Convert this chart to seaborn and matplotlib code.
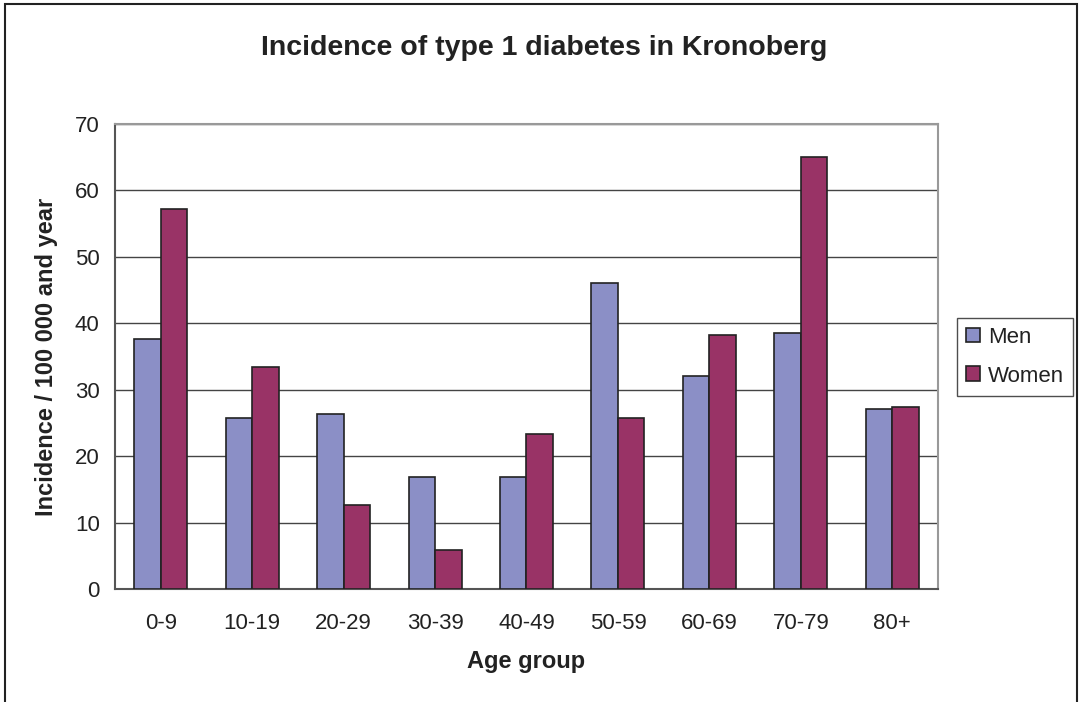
import numpy as np
import pandas as pd
import matplotlib
matplotlib.use("Agg")
import matplotlib.pyplot as plt
import seaborn as sns
from matplotlib.patches import Rectangle

# ── data ─────────────────────────────────────────────────────
age_groups = ["0-9", "10-19", "20-29", "30-39", "40-49",
              "50-59", "60-69", "70-79", "80+"]
men = [37.7, 25.7, 26.3, 16.8, 16.8, 46.1, 32.0, 38.5, 27.1]
women = [57.2, 33.4, 12.7, 5.9, 23.3, 25.7, 38.2, 65.1, 27.4]
series = ["Men", "Women"]
colors = ["#8B8FC6", "#993366"]

df = pd.DataFrame({
    "Age group": age_groups * 2,
    "Incidence": men + women,
    "Sex": ["Men"] * len(men) + ["Women"] * len(women),
})

sns.set_theme(style="white")
plt.rcParams['font.family'] = ['Liberation Sans', 'DejaVu Sans']

fig = plt.figure(figsize=(10.84, 7.02), dpi=100)
ax = fig.add_axes([115 / 1084, 1 - 589 / 702, (938 - 115) / 1084, (589 - 124) / 702])

sns.barplot(data=df, x="Age group", y="Incidence", hue="Sex",
            hue_order=series, palette=colors, width=0.58, gap=0,
            edgecolor="#222222", linewidth=1.2, saturation=1, ax=ax, zorder=3)

ax.set_ylim(0, 70)
ax.set_yticks(range(0, 71, 10))
ax.set_xlim(-0.5, len(age_groups) - 0.5)
ax.yaxis.grid(True, color="#444444", linewidth=1)
ax.set_axisbelow(True)

# ticks between the categories, Excel style
ax.set_xticks(np.arange(-0.5, len(age_groups), 1), minor=True)
ax.tick_params(axis="x", which="major", length=0, pad=17, labelsize=16, labelcolor="#222222")
ax.tick_params(axis="x", which="minor", length=6, width=1, color="#555555", direction="out")
ax.tick_params(axis="y", length=6, width=1, color="#555555", direction="out",
               labelsize=16, pad=5, labelcolor="#222222")

for side in ["top", "right"]:
    ax.spines[side].set_color("#999999")
    ax.spines[side].set_linewidth(1.5)
for side in ["left", "bottom"]:
    ax.spines[side].set_color("#555555")
    ax.spines[side].set_linewidth(1.5)

ax.set_xlabel("Age group", fontsize=17, fontweight="bold", labelpad=12, color="#222222")
ax.set_ylabel("Incidence / 100 000 and year", fontsize=17, fontweight="bold",
              labelpad=12, color="#222222")

fig.text(544 / 1084, 1 - 48 / 702, "Incidence of type 1 diabetes in Kronoberg",
         ha="center", va="center", fontsize=20.5, fontweight="bold", color="#222222")

leg = ax.legend(loc="upper left", bbox_to_anchor=(957 / 1084, 1 - 318 / 702),
                bbox_transform=fig.transFigure, fontsize=16, frameon=True,
                fancybox=False, edgecolor="#222222", handlelength=0.65,
                handleheight=0.65, handletextpad=0.36, borderpad=0.4,
                labelspacing=0.8, borderaxespad=0)
leg.get_frame().set_linewidth(1)
for t in leg.get_texts():
    t.set_color("#222222")

# outer chart frame
fig.patches.append(Rectangle((5 / 1084, -0.01), 1072 / 1084, 1 - 4 / 702 + 0.01,
                             transform=fig.transFigure, fill=False,
                             edgecolor="#222222", linewidth=1.5))

fig.savefig("out.png", dpi=100)
